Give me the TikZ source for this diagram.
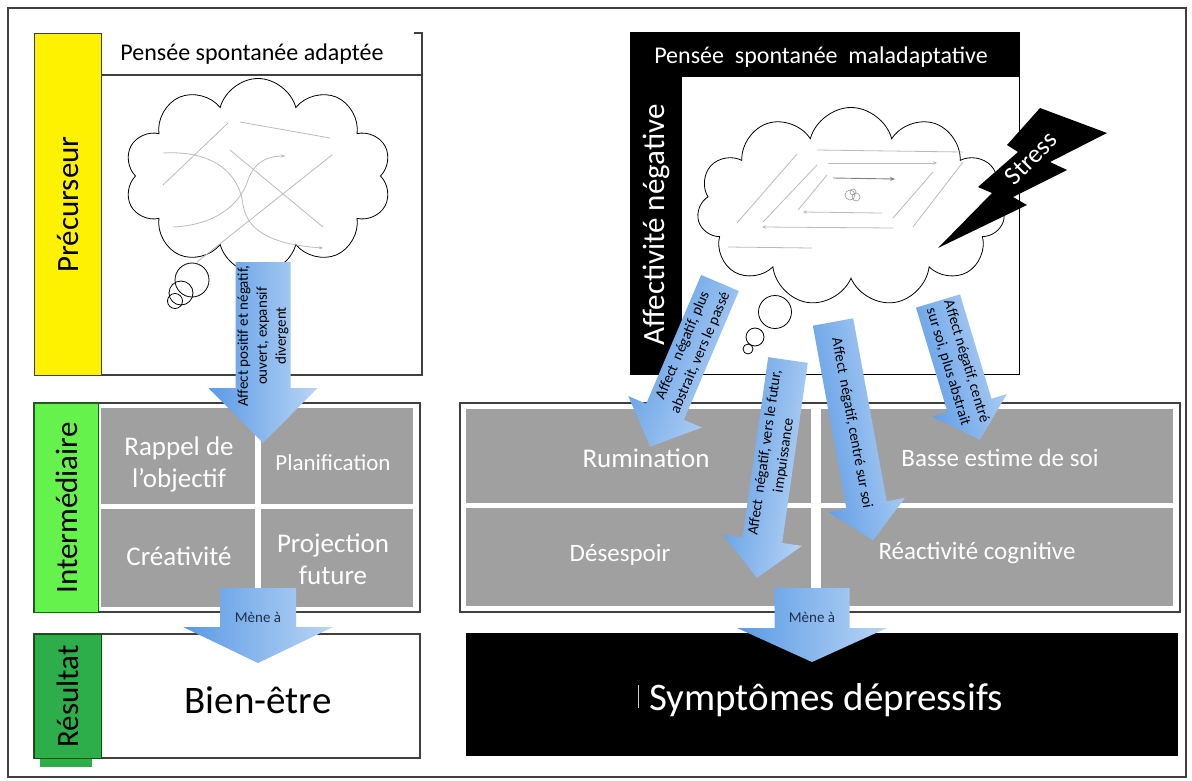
\documentclass[tikz,border=0pt]{standalone}
\usepackage{fontspec}
\setmainfont{Carlito}
\usetikzlibrary{shapes.symbols,arrows.meta}
\definecolor{arrlight}{HTML}{B9D5F5}
\definecolor{arrdark}{HTML}{5A9AE5}
\definecolor{cellgray}{HTML}{A0A0A0}
\definecolor{ygreen}{HTML}{66F24D}
\definecolor{dgreen}{HTML}{2DAE4A}
\definecolor{framegray}{HTML}{404040}
\definecolor{doodle}{HTML}{BBBBBB}
\definecolor{navytext}{HTML}{1F2F4F}
\newcommand{\fsz}[2]{\fontsize{#1}{#2}\selectfont}
\begin{document}
\begin{tikzpicture}[x=1pt,y=-1pt,
  boxframe/.style={draw=framegray, line width=1.1pt},
  graycell/.style={fill=cellgray, draw=none, inner sep=0, anchor=north west},
  celltext/.style={text=white, align=center, inner sep=0},
  blockarr/.style={left color=arrlight, right color=arrdark, draw=none},
  arrtext/.style={align=center, font=\fsz{15}{19}, inner sep=0pt},
  doodleline/.style={draw=doodle, line width=0.8pt},
  doodlearr/.style={draw=doodle, line width=0.8pt, -{Stealth[length=4pt,width=3.5pt]}},
  cloudline/.style={draw=black, line width=0.8pt},
  bubble/.style={circle, draw=black, line width=0.8pt, inner sep=0},
  sidebar/.style={inner sep=0, anchor=north west, line width=1pt},
]
\useasboundingbox (0,0) rectangle (1192,780);
\fill[white] (0,0) rectangle (1192,780);
\draw[boxframe] (8,8) rectangle (1186,777);

% ---------------- LEFT PRECURSOR ----------------
\node[sidebar, fill=yellow, draw=framegray, minimum width=67, minimum height=342] (precbar) at (34,33) {};
\node[rotate=90, font=\fsz{31}{37}] (preclab) at (precbar.center) {Précurseur};
\draw[boxframe] (101,75) -- (422,75);
\draw[boxframe] (414,33) -- (422,33) -- (422,375) -- (101,375);
\node[font=\fsz{24}{28}, inner sep=0] (ttlL) at (252,54) {Pensée spontanée adaptée};

\node[cloud, cloud puffs=10, cloud ignores aspect, minimum width=267, minimum height=195,
      cloudline, fill=white, inner sep=0] (cloudL) at (258,176) {};
\draw[doodleline] (240,122) -- (330,138);
\draw[doodleline] (163,185) -- (228,123);
\draw[doodlearr] (163,153) .. controls (215,150) and (240,175) .. (243,205)
                 .. controls (248,235) and (280,245) .. (323,248);
\draw[doodlearr] (173,227) .. controls (215,225) and (240,205) .. (248,180)
                 .. controls (255,160) and (270,156) .. (285,156);
\draw[doodleline] (230,150) -- (323,227);
\draw[doodleline] (332,155) -- (197,262);
\node[bubble, minimum size=34] (bubL1) at (192,280) {};
\node[bubble, minimum size=24] (bubL2) at (181,293) {};
\node[bubble, minimum size=15] (bubL3) at (175,301) {};

% ---------------- LEFT INTERMEDIATE ----------------
\draw[boxframe] (34,403) rectangle (420,612);
\node[sidebar, fill=ygreen, draw=green!45!black, minimum width=64, minimum height=209] (intbar) at (34,403) {};
\node[rotate=90, font=\fsz{31}{37}] (intlab) at (intbar.center) {Intermédiaire};
\node[graycell, minimum width=154, minimum height=96] (cL1) at (101,408) {};
\node[graycell, minimum width=152, minimum height=96] (cL2) at (261,408) {};
\node[graycell, minimum width=154, minimum height=98] (cL3) at (101,509) {};
\node[graycell, minimum width=152, minimum height=98] (cL4) at (261,509) {};
\node[celltext, font=\fsz{27}{32}] (tL1) at (179,464) {Rappel de\\l’objectif};
\node[celltext, font=\fsz{23}{28}] (tL2) at (333,463) {Planification};
\node[celltext, font=\fsz{27}{32}] (tL3) at (179,556) {Créativité};
\node[celltext, font=\fsz{27}{32}] (tL4) at (333,559) {Projection\\future};

% ---------------- LEFT RESULT ----------------
\draw[boxframe] (34,634) rectangle (420,758);
\fill[dgreen] (40,758) rectangle (92,767);
\node[sidebar, fill=dgreen, draw=green!35!black, minimum width=67, minimum height=124] (resbar) at (34,634) {};
\node[rotate=90, font=\fsz{31}{37}] (reslab) at (resbar.center) {Résultat};
\node[font=\fsz{39}{46}, inner sep=0] (bien) at (258,700) {Bien-être};

% left big arrow
\coordinate (tailA) at (263,262);
\begin{scope}[shift={(tailA)}, rotate=-90]
  \shade[blockarr, shading angle=-90] (0,27.5) -- (126,27.5) -- (126,54.5) -- (181,0) -- (126,-54.5) -- (126,-27.5) -- (0,-27.5) -- cycle;
  \node[arrtext, rotate=90] (txtA) at (74,0) {Affect positif et négatif,\\ouvert, expansif\\divergent};
\end{scope}
% left "Mène à"
\coordinate (tailM1) at (258,588);
\begin{scope}[shift={(tailM1)}, rotate=-90]
  \shade[blockarr, shading angle=-90] (0,38) -- (39,38) -- (39,75) -- (75,0) -- (39,-75) -- (39,-38) -- (0,-38) -- cycle;
  \node[arrtext, text=navytext] (txtM1) at (29,0) {Mène à};
\end{scope}

% ---------------- RIGHT PRECURSOR ----------------
\fill[black] (630,32) rectangle (1020,375);
\fill[white] (682,77) rectangle (1018.5,373.5);
\node[font=\fsz{24}{28}, text=white, inner sep=0] (ttlR) at (821,57) {Pensée~~spontanée~~maladaptative};
\node[rotate=90, font=\fsz{31}{37}, text=white] (afflab) at (656,225) {Affectivité négative};

\node[cloud, cloud puffs=11, cloud ignores aspect, minimum width=308, minimum height=199,
      cloudline, fill=white, inner sep=0] (cloudR) at (851,207) {};
\draw[doodleline] (817,150) -- (963,152);
\draw[doodleline] (797,154) -- (737,223);
\draw[doodlearr] (828,163) -- (937,163);
\draw[doodleline] (963,162) -- (913,227);
\draw[doodleline] (933,172) -- (893,218);
\draw[draw=gray, line width=0.9pt, -{Stealth[length=5pt,width=4pt]}] (833,178) -- (895,179);
\draw[doodleline] (827,175) -- (798,210);
\draw[doodleline] (817,165) -- (763,222);
\draw[doodlearr] (882,213) -- (803,212);
\draw[doodlearr] (893,228) -- (762,227);
\draw[doodleline] (728,247) -- (812,248);
\draw[draw=gray!80, line width=0.6pt] (850,195) circle[radius=5] (856,197) circle[radius=4] (853,192) circle[radius=3];
\node[bubble, minimum size=33] (bubR1) at (775,312) {};
\node[bubble, minimum size=18] (bubR2) at (755,337) {};
\node[bubble, minimum size=10] (bubR3) at (748,349) {};

% lightning
\fill[black] (1040,108) -- (1107,133) -- (1050,162) -- (1067,170) -- (1013,197) -- (1027,205)
  -- (938,248) -- (992,193) -- (978,187) -- (1018,152) -- (1007,145) -- cycle;
\node[rotate=45, text=white, font=\fsz{26}{30}, inner sep=0] (stress) at (1031,158) {Stress};

% ---------------- RIGHT INTERMEDIATE ----------------
\draw[boxframe] (460,403) rectangle (1180,612);
\node[graycell, minimum width=345, minimum height=94] (cR1) at (466,409) {};
\node[graycell, minimum width=352, minimum height=94] (cR2) at (821,409) {};
\node[graycell, minimum width=345, minimum height=98] (cR3) at (466,508) {};
\node[graycell, minimum width=352, minimum height=98] (cR4) at (821,508) {};
\node[celltext, font=\fsz{27}{32}] (tR1) at (646,458) {Rumination};
\node[celltext, font=\fsz{25}{30}] (tR2) at (1000,458) {Basse estime de soi};
\node[celltext, font=\fsz{25}{30}] (tR3) at (620,555) {Désespoir};
\node[celltext, font=\fsz{25}{30}] (tR4) at (977,553) {Réactivité cognitive};

% ---------------- RIGHT RESULT ----------------
\node[inner sep=0, anchor=north west, fill=black, minimum width=712, minimum height=123] (sympbox) at (466,633) {};
\node[font=\fsz{39}{46}, text=white, inner sep=0] (symp) at (826,700) {Symptômes dépressifs};
\draw[white!80!black, line width=0.8pt] (638,685) -- (638,708);

% right blue arrows
\coordinate (tailB1) at (720,283);
\begin{scope}[shift={(tailB1)}, rotate=-113.1]
  \shade[blockarr, shading angle=-113.1] (0,20.5) -- (140,20.5) -- (140,40) -- (178,0) -- (140,-40) -- (140,-20.5) -- (0,-20.5) -- cycle;
  \node[arrtext, rotate=66.9] (txtB1) at (72,0) {Affect~~négatif, plus\\abstrait, vers le passé};
\end{scope}
\coordinate (tailB2) at (788,360);
\begin{scope}[shift={(tailB2)}, rotate=-98.1]
  \shade[blockarr, shading angle=-98.1] (0,20) -- (182,20) -- (182,40) -- (220,0) -- (182,-40) -- (182,-20) -- (0,-20) -- cycle;
  \node[arrtext, rotate=81.9] (txtB2) at (95,0) {Affect~~négatif, vers le futur,\\impuissance};
\end{scope}
\coordinate (tailB3) at (833,322);
\begin{scope}[shift={(tailB3)}, rotate=-79.6]
  \shade[blockarr, shading angle=-79.6] (0,20.5) -- (186,20.5) -- (186,39) -- (222,0) -- (186,-39) -- (186,-20.5) -- (0,-20.5) -- cycle;
  \node[arrtext, rotate=-79.6] (txtB3) at (103,0) {Affect~~négatif, centré sur soi};
\end{scope}
\coordinate (tailB4) at (938,301);
\begin{scope}[shift={(tailB4)}, rotate=-73.2]
  \shade[blockarr, shading angle=-73.2] (0,23) -- (109,23) -- (109,39) -- (145,0) -- (109,-39) -- (109,-23) -- (0,-23) -- cycle;
  \node[arrtext, rotate=-73.2] (txtB4) at (66,0) {Affect négatif, centré\\sur soi, plus abstrait};
\end{scope}
% right "Mène à"
\coordinate (tailM2) at (812,588);
\begin{scope}[shift={(tailM2)}, rotate=-90]
  \shade[blockarr, shading angle=-90] (0,37.5) -- (40,37.5) -- (40,75) -- (74,0) -- (40,-75) -- (40,-37.5) -- (0,-37.5) -- cycle;
  \node[arrtext, text=navytext] (txtM2) at (29,0) {Mène à};
\end{scope}
\end{tikzpicture}
\end{document}
